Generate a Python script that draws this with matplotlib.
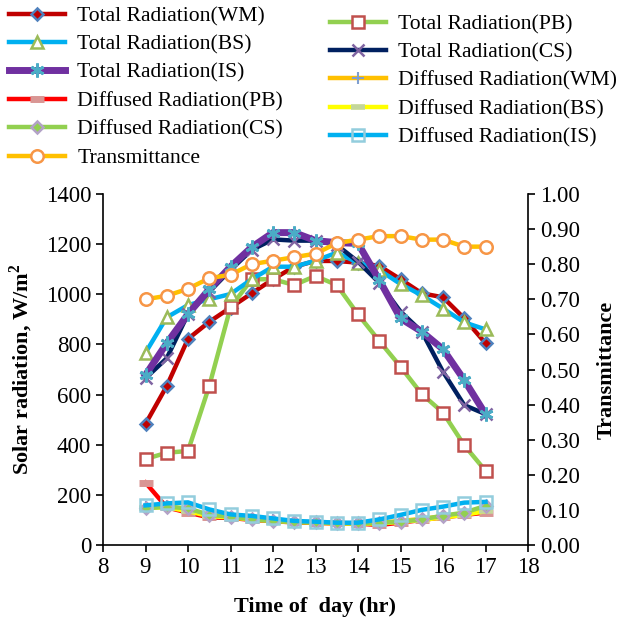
import matplotlib
matplotlib.use("Agg")
import matplotlib.pyplot as plt

plt.rcParams['font.family'] = ['Liberation Serif', 'DejaVu Serif']
plt.rcParams['mathtext.fontset'] = 'custom'
plt.rcParams['mathtext.rm'] = 'Liberation Serif'
plt.rcParams['mathtext.bf'] = 'Liberation Serif:bold'

hours = [9, 9.5, 10, 10.5, 11, 11.5, 12, 12.5, 13, 13.5, 14, 14.5, 15, 15.5, 16, 16.5, 17]

total_wm = [483, 634, 822, 890, 947, 1004, 1060, 1110, 1133, 1133, 1126, 1113, 1060, 1004, 988, 904, 805]
total_pb = [343, 368, 375, 634, 948, 1060, 1060, 1037, 1073, 1037, 920, 814, 711, 602, 528, 398, 296]
total_bs = [767, 908, 957, 980, 1001, 1060, 1110, 1110, 1134, 1166, 1126, 1097, 1041, 996, 943, 888, 860]
total_cs = [665, 745, 921, 1010, 1097, 1177, 1219, 1214, 1214, 1197, 1130, 1046, 931, 851, 691, 558, 522]
total_is = [678, 805, 921, 1020, 1110, 1188, 1246, 1246, 1214, 1206, 1203, 1057, 904, 851, 781, 658, 522]

diff_wm = [150, 155, 140, 118, 112, 105, 98, 93, 90, 87, 86, 88, 96, 104, 115, 125, 140]
diff_pb = [249, 150, 129, 110, 108, 100, 95, 90, 88, 86, 85, 80, 89, 100, 110, 120, 129]
diff_bs = [148, 150, 135, 115, 110, 102, 96, 92, 89, 86, 85, 86, 92, 100, 110, 120, 135]
diff_cs = [146, 153, 146, 120, 113, 102, 96, 92, 90, 88, 86, 89, 93, 102, 117, 129, 156]
diff_is = [158, 166, 170, 142, 122, 116, 106, 96, 93, 89, 89, 102, 120, 140, 153, 169, 172]

transmittance = [0.70, 0.71, 0.73, 0.76, 0.77, 0.80, 0.81, 0.82, 0.83, 0.86, 0.87, 0.88, 0.88, 0.87, 0.87, 0.85, 0.85]

labels = {
    'twm': 'Total Radiation(WM)', 'tpb': 'Total Radiation(PB)', 'tbs': 'Total Radiation(BS)',
    'tcs': 'Total Radiation(CS)', 'tis': 'Total Radiation(IS)', 'dwm': 'Diffused Radiation(WM)',
    'dpb': 'Diffused Radiation(PB)', 'dbs': 'Diffused Radiation(BS)', 'dcs': 'Diffused Radiation(CS)',
    'dis': 'Diffused Radiation(IS)', 'tr': 'Transmittance',
}

fig = plt.figure(figsize=(6.19, 6.20), dpi=100)
ax = fig.add_axes([103/619, 1-545/620, (528-103)/619, (545-194)/620])
ax2 = ax.twinx()

LW = 3.2
MS = 8
h = {}
h['twm'], = ax.plot(hours, total_wm, color='#C00000', lw=LW, marker='D', ms=6, mfc='#C00000', mec='#4F81BD', mew=1.8)
h['tpb'], = ax.plot(hours, total_pb, color='#92D050', lw=LW, marker='s', ms=MS, mfc='white', mec='#C0504D', mew=1.8)
h['tbs'], = ax.plot(hours, total_bs, color='#00B0F0', lw=LW, marker='^', ms=MS+1, mfc='white', mec='#9BBB59', mew=1.8)
h['tcs'], = ax.plot(hours, total_cs, color='#002060', lw=LW, marker='x', ms=MS, mec='#8064A2', mew=1.8)
h['tis'], = ax.plot(hours, total_is, color='#7030A0', lw=5.0, marker=(6, 2, 0), ms=MS+2, mec='#4BACC6', mew=2.0)
h['dwm'], = ax.plot(hours, diff_wm, color='#FFC000', lw=LW, marker='+', ms=MS, mec='#7F9FD0', mew=1.5)
h['dpb'], = ax.plot(hours, diff_pb, color='#FF0000', lw=LW, marker='_', ms=10, mec='#D99694', mew=5)
h['dbs'], = ax.plot(hours, diff_bs, color='#FFFF00', lw=LW, marker='_', ms=10, mec='#C3D69B', mew=4)
h['dcs'], = ax.plot(hours, diff_cs, color='#92D050', lw=LW, marker='D', ms=6, mfc='#92D050', mec='#B3A2C7', mew=1.8)
h['dis'], = ax.plot(hours, diff_is, color='#00B0F0', lw=LW, marker='s', ms=MS, mfc='none', mec='#93CDDD', mew=1.8)
h['tr'], = ax2.plot(hours, transmittance, color='#FFC000', lw=LW, marker='o', ms=MS+1, mfc='white', mec='#F79646', mew=1.8)

ax.set_xlim(8, 18)
ax.set_ylim(0, 1400)
ax2.set_ylim(0, 1.0)
ax.set_xticks(range(8, 19))
ax.set_yticks(range(0, 1401, 200))
ax2.set_yticks([i/10 for i in range(11)])
ax2.set_yticklabels([f"{i/10:.2f}" for i in range(11)])

for a in (ax, ax2):
    a.spines['top'].set_visible(False)
    for s in a.spines.values():
        s.set_linewidth(1.2)
ax.spines['right'].set_visible(False)
ax2.spines['left'].set_visible(False)
ax2.spines['bottom'].set_visible(False)

FS = 16
TFS = 16.5
LFS = 15.6
ax.tick_params(axis='both', labelsize=TFS, direction='out', length=5, width=1.2)
ax2.tick_params(axis='y', labelsize=TFS, direction='out', length=5, width=1.2)

ax.set_xlabel('Time of  day (hr)', fontsize=FS, fontweight='bold', labelpad=14)
ax.set_ylabel(r'Solar radiation, W/m$^\mathbf{2}$', fontsize=FS, fontweight='bold', labelpad=8)
ax2.set_ylabel('Transmittance', fontsize=FS, fontweight='bold', labelpad=12)

left_keys = ['twm', 'tbs', 'tis', 'dpb', 'dcs', 'tr']
right_keys = ['tpb', 'tcs', 'dwm', 'dbs', 'dis']

leg_kw = dict(frameon=False, fontsize=LFS, handlelength=2.6, labelspacing=0.38,
              handletextpad=0.55, borderaxespad=0, borderpad=0)
fig.legend([h[k] for k in left_keys], [labels[k] for k in left_keys],
           loc='upper left', bbox_to_anchor=(9/619, 1-6/620), **leg_kw)
fig.legend([h[k] for k in right_keys], [labels[k] for k in right_keys],
           loc='upper left', bbox_to_anchor=(330/619, 1-14/620), **leg_kw)

fig.savefig('out.png', dpi=100)
